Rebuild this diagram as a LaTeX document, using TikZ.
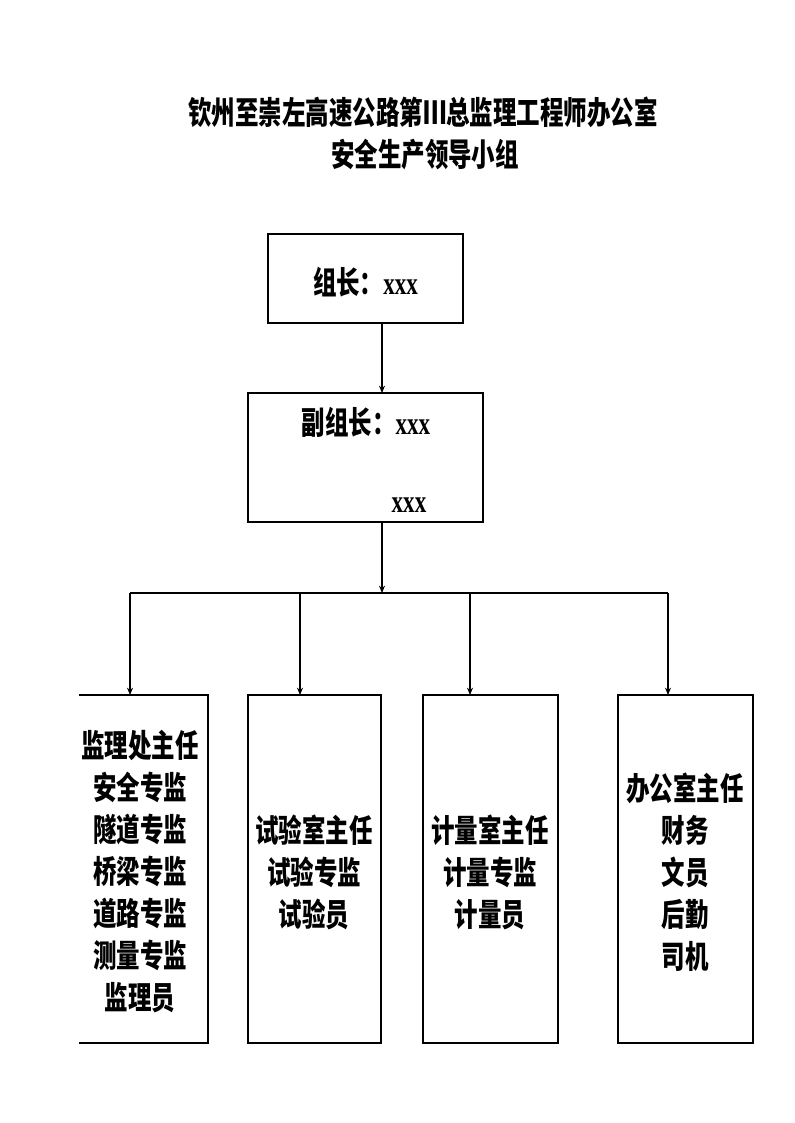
\documentclass[tikz,border=0pt]{standalone}
\usepackage{fontspec}
\usetikzlibrary{arrows.meta}
\newfontfamily\cjk{Noto Sans CJK SC}[FakeStretch=0.74]
\newfontfamily\xfont{Liberation Serif}[FakeStretch=0.72]
\newcommand{\xxx}{{\xfont\bfseries\fontsize{24}{24}\selectfont xxx}}
\begin{document}
\begin{tikzpicture}[x=0.75pt,y=-0.75pt,
  line width=0.8pt,
  every node/.style={inner sep=0pt, outer sep=0pt},
  txt/.style={font=\cjk\bfseries\fontsize{23.8}{31.5}\selectfont, align=center},
  conn/.style={-{Stealth[length=5.5pt,width=4.5pt,inset=1.8pt]}}
]
\useasboundingbox (0,0) rectangle (794,1123);
% title
\node[txt] (t1) at (423,112) {钦州至崇左高速公路第Ⅲ总监理工程师办公室};
\node[txt] (t2) at (425,155) {安全生产领导小组};
% leader
\node[draw, minimum width={195*0.75pt}, minimum height={89*0.75pt}] (leader) at (365.5,278.5) {};
\node[txt, anchor=center] (leadertext) at (365.5,282) {组长：\xxx};
% deputy
\node[draw, minimum width={235*0.75pt}, minimum height={129*0.75pt}] (deputy) at (365.5,457.5) {};
\node[txt] (deptext) at (366,422) {副组长：\xxx};
\node (dep2) at (409,505) {\xxx};
% connectors top
\coordinate (axis) at (382,0);
\draw[conn] (leader.south -| axis) -- (deputy.north -| axis);
\coordinate (bus) at (382,593);
\draw[conn] (deputy.south -| axis) -- (bus);
\coordinate (busL) at (130,593);
\coordinate (busR) at (668,593);
\draw (busL) -- (busR);
\coordinate (d2) at (300,593);
\coordinate (d3) at (470,593);
% lower boxes
\node[minimum width={129*0.75pt}, minimum height={348*0.75pt}] (b1) at (143.5,869) {};
\draw (b1.north west) -- (b1.north east) -- (b1.south east) -- (b1.south west);
\node[draw, minimum width={133*0.75pt}, minimum height={348*0.75pt}] (b2) at (314.5,869) {};
\node[draw, minimum width={135*0.75pt}, minimum height={348*0.75pt}] (b3) at (490.5,869) {};
\node[draw, minimum width={135*0.75pt}, minimum height={348*0.75pt}] (b4) at (685.5,869) {};
% drops
\draw[conn] (busL) -- (busL |- b1.north);
\draw[conn] (d2) -- (d2 |- b2.north);
\draw[conn] (d3) -- (d3 |- b3.north);
\draw[conn] (busR) -- (busR |- b4.north);
% box texts
\node[txt] (b1t) at (140,872) {监理处主任\\安全专监\\隧道专监\\桥梁专监\\道路专监\\测量专监\\监理员};
\node[txt] (b2t) at (314,872) {试验室主任\\试验专监\\试验员};
\node[txt] (b3t) at (490,872) {计量室主任\\计量专监\\计量员};
\node[txt] (b4t) at (685,872) {办公室主任\\财务\\文员\\后勤\\司机};
\end{tikzpicture}
\end{document}
